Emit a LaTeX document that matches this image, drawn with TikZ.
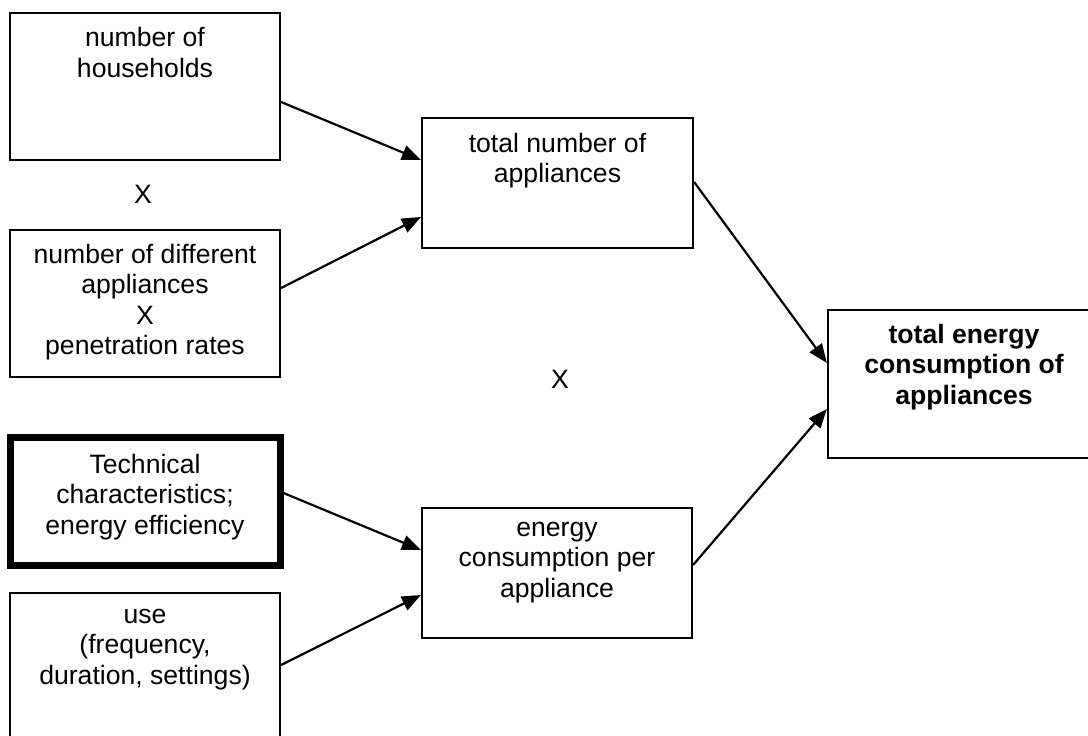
\documentclass[tikz,border=0pt]{standalone}
\usepackage{fontspec}
\setmainfont{Liberation Sans}
\usetikzlibrary{arrows.meta}

% text set at 26.6pt on a 30.5pt line pitch; the first line carries a strut
\newcommand{\boxfont}{\fontsize{26.6}{30.5}\selectfont}

\tikzset{
  box/.style={draw=black, line width=2.2pt, rectangle, inner sep=0pt},
  heavybox/.style={box, line width=7pt},
  lbl/.style={inner sep=0pt, align=center, anchor=north, yshift=21.35pt,
              font=\boxfont, execute at begin node=\strut},
  mult/.style={inner sep=0pt, anchor=base, font=\boxfont},
  flow/.style={line width=2.2pt, -{Triangle[length=19pt,width=15pt]}},
}

\begin{document}
\begin{tikzpicture}[x=1pt, y=-1pt]
  \useasboundingbox (0,0) rectangle (1088,736);
  \fill[white] (0,0) rectangle (1088,736);
  \clip (0,0) rectangle (1088,736);

  % input boxes on the left
  \node[box, minimum width=270pt, minimum height=147pt] (hh)   at (145,86.5) {};
  \node[box, minimum width=270pt, minimum height=147pt] (diff) at (145,303.5) {};
  \node[heavybox, minimum width=270pt, minimum height=128pt] (tech) at (145,501) {};
  \node[box, minimum width=270pt, minimum height=147pt] (use)  at (145,666.5) {};

  % intermediate boxes
  \node[box, minimum width=271pt, minimum height=130pt] (tot)  at (557.5,183) {};
  \node[box, minimum width=270pt, minimum height=130pt] (per)  at (557,573) {};

  % result box
  \node[box, minimum width=272pt, minimum height=148pt] (res)  at (964,384) {};

  % box texts (positions are first-line baselines)
  \node[lbl] (hhT)   at (145,48.5) {number of\\households};
  \node[lbl] (diffT) at (145,265) {number of different\\appliances\\X\\penetration rates};
  \node[lbl] (techT) at (145,475) {Technical\\characteristics;\\energy efficiency};
  \node[lbl] (useT)  at (145,630) {use\\(frequency,\\duration, settings)};
  \node[lbl] (totT)  at (557.5,154) {total number of\\appliances};
  \node[lbl] (perT)  at (557,543) {energy\\consumption per\\appliance};
  \node[lbl, font=\boxfont\bfseries] (resT) at (964,345)
        {total energy\\consumption of\\appliances};

  % multiplication signs between the boxes
  \node[mult] (x1) at (143,203) {X};
  \node[mult] (x2) at (560,388) {X};

  % connectors
  \draw[flow] (hh.east |- 0,102)   -- (tot.west |- 0,160);
  \draw[flow] (diff.east |- 0,288) -- (tot.west |- 0,217);
  \draw[flow] (tech.east |- 0,493) -- (per.west |- 0,550);
  \draw[flow] (use.east |- 0,665)  -- (per.west |- 0,595);
  \draw[flow] (tot.east |- 0,182)  -- (res.west |- 0,363);
  \draw[flow] (per.east |- 0,565)  -- (res.west |- 0,409);
\end{tikzpicture}
\end{document}
